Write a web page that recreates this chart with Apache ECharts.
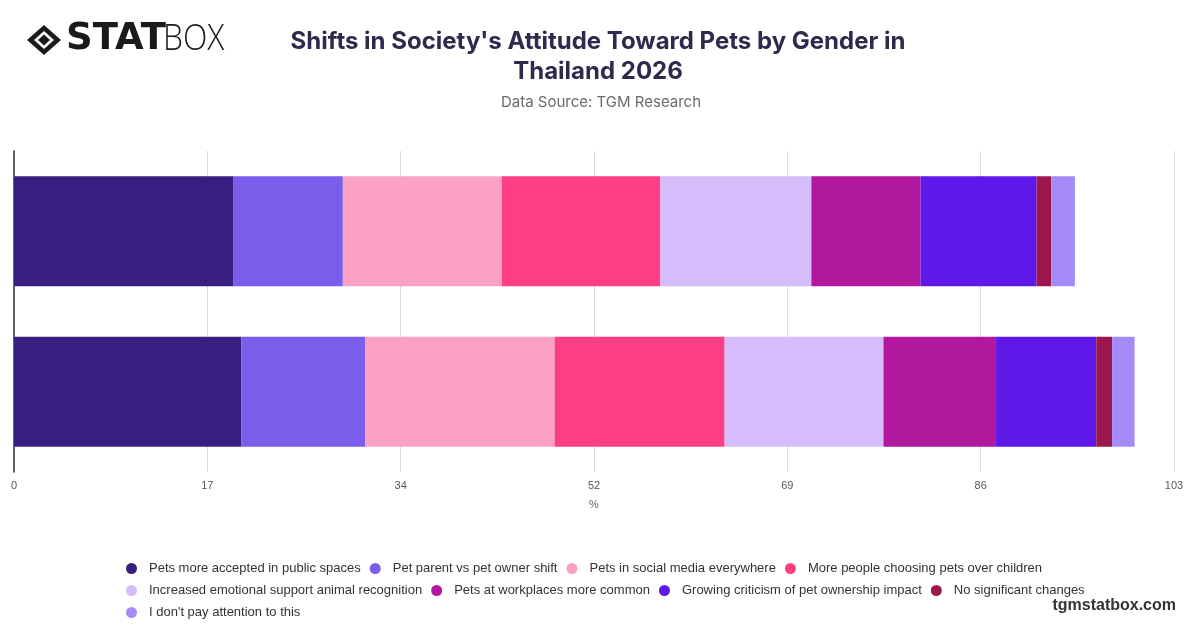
<!DOCTYPE html>
<html>
<head>
<meta charset="utf-8">
<script src="https://cdn.jsdelivr.net/npm/echarts@6/dist/echarts.min.js"></script>
<style>
html,body{margin:0;padding:0;background:#fff;}
#chart{width:1200px;height:628px;}
</style>
</head>
<body>
<div id="chart"></div>
<script>
const categories = ["Male", "Female"];
const seriesNames = [
  "Pets more accepted in public spaces",
  "Pet parent vs pet owner shift",
  "Pets in social media everywhere",
  "More people choosing pets over children",
  "Increased emotional support animal recognition",
  "Pets at workplaces more common",
  "Growing criticism of pet ownership impact",
  "No significant changes",
  "I don't pay attention to this"
];
const colors = ["#371E80", "#7B5DEB", "#FBA2C4", "#FF3F85", "#D5BCFA", "#B1189D", "#5E18E8", "#9C184C", "#A58BF7"];
const publicSpaces = [19.5, 20.2];
const parentShift = [9.7, 11.0];
const socialMedia = [14.1, 16.8];
const petsOverChildren = [14.1, 15.1];
const emotionalSupport = [13.4, 14.1];
const workplaces = [9.7, 10.0];
const criticism = [10.3, 8.9];
const noChanges = [1.3, 1.4];
const noAttention = [2.1, 2.0];
const seriesValues = [publicSpaces, parentShift, socialMedia, petsOverChildren, emotionalSupport, workplaces, criticism, noChanges, noAttention];
const xTicks = [0, 17, 34, 52, 69, 86, 103];

const chart = echarts.init(document.getElementById('chart'));
const option = {
  animation: false,
  color: colors,
  title: [{
    text: "Shifts in Society's Attitude Toward Pets by Gender in\nThailand 2026",
    left: 593, top: 22, textAlign: 'center',
    textStyle: {fontFamily: 'Inter', fontSize: 24, fontWeight: 'bold', color: '#2E2A4D', lineHeight: 30}
  }, {
    text: "Data Source: TGM Research",
    left: 596, top: 90, textAlign: 'center',
    textStyle: {fontFamily: 'Inter', fontSize: 15, fontWeight: 'normal', color: '#6b6b6b'}
  }],
  graphic: [
    {type: 'polygon', shape: {points: [[44,25],[61,40],[44,55],[27,40]]}, style: {fill: '#1a1a1a'}},
    {type: 'polygon', shape: {points: [[44,31],[54,40],[44,49],[34,40]]}, style: {fill: '#fff'}},
    {type: 'polygon', shape: {points: [[44,34.5],[50,40],[44,45.5],[38,40]]}, style: {fill: '#1a1a1a'}},
    {type: 'text', x: 66, y: 21, style: {text: 'STAT', font: '900 37px "DejaVu Sans"', fill: '#1a1a1a'}},
    {type: 'text', x: 163, y: 21, scaleX: 0.86, style: {text: 'BOX', font: '300 37px "Open Sans"', fill: '#1a1a1a'}},
    {type: 'text', right: 24, top: 598, style: {text: 'tgmstatbox.com', font: 'bold 16px "Liberation Sans"', fill: '#333'}}
  ],
  legend: {
    data: seriesNames,
    left: 121, top: 557, width: 990,
    icon: 'circle', itemWidth: 11, itemHeight: 11, itemGap: 9,
    textStyle: {fontFamily: 'Liberation Sans', fontSize: 13, color: '#333', padding: [0, 0, 0, 7]}
  },
  grid: {left: 14, right: 26, top: 151, bottom: 156, containLabel: false},
  xAxis: {
    type: 'value', min: 0, max: 103, interval: 103 / 6,
    name: '%', nameLocation: 'middle', nameGap: 27,
    nameTextStyle: {fontFamily: 'Liberation Sans', fontSize: 11, color: '#666'},
    axisLine: {show: false}, axisTick: {show: false},
    axisLabel: {fontFamily: 'Liberation Sans', fontSize: 11, color: '#555', margin: 8,
      formatter: v => String(Math.round(v))},
    splitLine: {show: true, lineStyle: {color: '#dcdcdc', width: 1}}
  },
  yAxis: {
    type: 'category', data: categories, inverse: true,
    axisLine: {show: true, lineStyle: {color: '#333', width: 1.5}},
    axisTick: {show: false}, axisLabel: {show: false}
  },
  series: seriesValues.map((vals, i) => ({
    name: seriesNames[i], type: 'bar', stack: 'total', barWidth: 110,
    data: vals
  }))
};
chart.setOption(option);
</script>
</body>
</html>
